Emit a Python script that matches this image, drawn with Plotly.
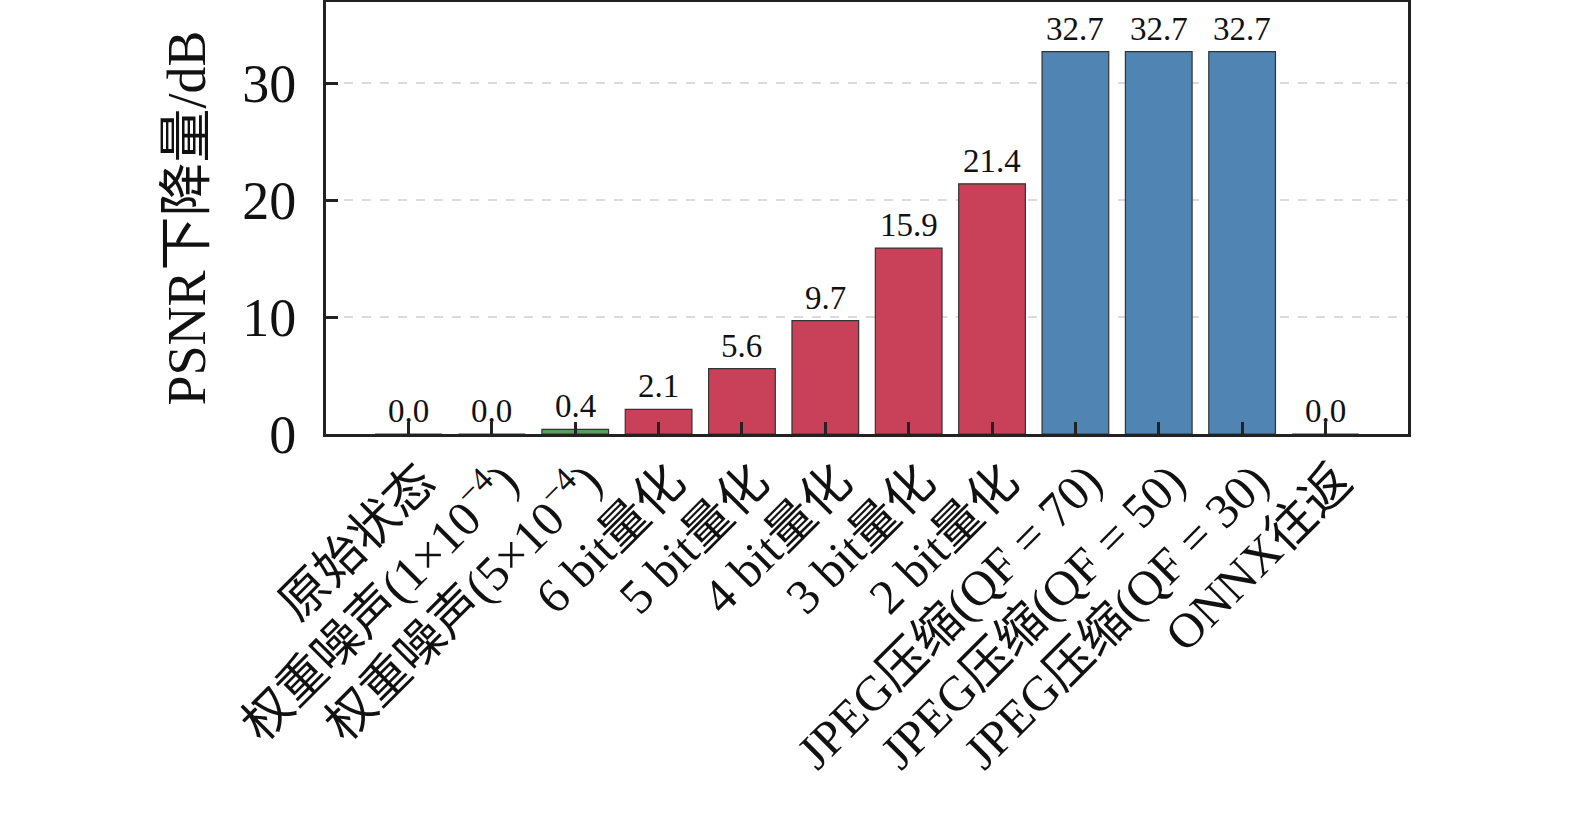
import plotly.graph_objects as go

# PSNR drop per perturbation
categories = [
    "原始状态",
    "权重噪声(1×10<sup>−4</sup>)",
    "权重噪声(5×10<sup>−4</sup>)",
    "6 bit量化",
    "5 bit量化",
    "4 bit量化",
    "3 bit量化",
    "2 bit量化",
    "JPEG压缩(QF = 70)",
    "JPEG压缩(QF = 50)",
    "JPEG压缩(QF = 30)",
    "ONNX往返",
]
psnr_drop = [0.0, 0.0, 0.4, 2.1, 5.6, 9.7, 15.9, 21.4, 32.7, 32.7, 32.7, 0.0]
groups = ["none", "noise", "noise", "quant", "quant", "quant", "quant", "quant",
          "jpeg", "jpeg", "jpeg", "none"]

COLORS = {"none": "#5B9E5B", "noise": "#5B9E5B", "quant": "#C84158", "jpeg": "#4F84B3"}
FONT = "Liberation Serif, Times New Roman, Noto Sans CJK SC, serif"

xs = list(range(len(categories)))
ymax = max(psnr_drop) * 1.13

fig = go.Figure()
fig.add_trace(go.Bar(
    x=xs, y=psnr_drop, width=0.8,
    marker=dict(color=[COLORS[g] for g in groups],
                line=dict(color="#333333", width=1.2)),
    hoverinfo="skip",
))

for xi, v in zip(xs, psnr_drop):
    fig.add_annotation(x=xi, y=v, text=f"{v:.1f}", showarrow=False,
                       yanchor="bottom", yshift=3,
                       font=dict(family=FONT, size=33, color="#111111"))

fig.update_layout(
    width=1575, height=816,
    margin=dict(l=326, r=167, t=2, b=382),
    paper_bgcolor="white", plot_bgcolor="white",
    showlegend=False,
    font=dict(family=FONT, color="#111111"),
    xaxis=dict(
        range=[-0.99, len(categories) - 0.01],
        tickmode="array", tickvals=xs, ticktext=categories,
        tickangle=-45, tickfont=dict(size=49),
        ticks="inside", ticklen=12, tickwidth=2.5, tickcolor="#222222",
        ticklabelshift=12, ticklabelstandoff=-4,
        showline=True, linewidth=3, linecolor="#222222", mirror=True,
        showgrid=False, zeroline=False, automargin=False,
    ),
    yaxis=dict(
        range=[0, ymax],
        tickvals=[0, 10, 20, 30],
        tickfont=dict(size=54),
        ticks="inside", ticklen=12, tickwidth=2.5, tickcolor="#222222",
        ticklabelstandoff=16,
        showline=True, linewidth=3, linecolor="#222222", mirror=True,
        showgrid=True, gridcolor="#DDDADA", griddash="dash", gridwidth=1.5,
        zeroline=False, automargin=False,
        title=dict(text="PSNR下降量/dB", font=dict(size=54), standoff=20),
    ),
)

fig.write_html("out.html", config={"displayModeBar": False},
               post_script="document.body.style.margin='0';")
